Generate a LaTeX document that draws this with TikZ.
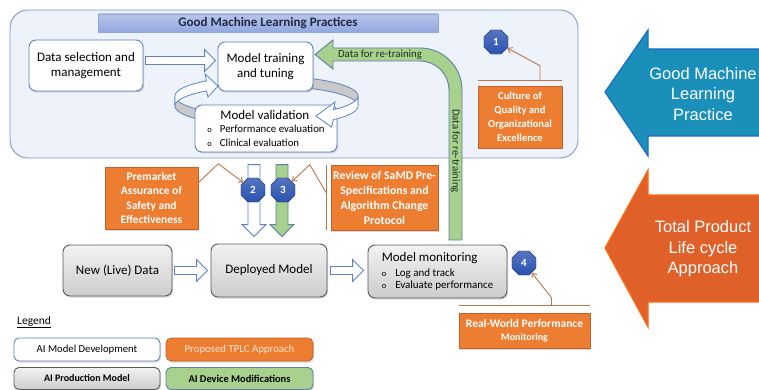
\documentclass[tikz,border=0pt]{standalone}
\usepackage{fontspec}
\setmainfont{Carlito}
\newfontfamily\arialfont{Liberation Sans}
\usetikzlibrary{calc,shapes.geometric,shadows,arrows.meta}
\definecolor{outerfill}{HTML}{EEF2FA}
\definecolor{outerdraw}{HTML}{7F98CC}
\definecolor{boxblue}{HTML}{5B83C3}
\definecolor{orng}{HTML}{ED7D31}
\definecolor{orngdark}{HTML}{C0602A}
\definecolor{brownline}{HTML}{B8764E}
\definecolor{grnfill}{HTML}{A9D18E}
\definecolor{grndraw}{HTML}{5B7FA6}
\definecolor{badgec}{HTML}{2A52B0}
\definecolor{bluearr}{HTML}{1A8FBA}
\definecolor{bluearrdraw}{HTML}{1E6BC4}
\definecolor{orarr}{HTML}{E0602A}
\definecolor{orarrdraw}{HTML}{FF6A10}
\definecolor{titletxt}{HTML}{1F2A44}
\definecolor{titletop}{HTML}{B9C6EC}
\definecolor{titlebot}{HTML}{93A7DF}
\definecolor{ribgrayc}{HTML}{C9C9C9}
\definecolor{peach}{HTML}{FCE4D6}
\definecolor{greentxt}{HTML}{1E2E1A}
\newcommand{\harrow}[3][]{%
  \draw[hollowarr,#1] let \p1=(#2), \p2=(#3) in
  (\x1,\y1+4pt) -- (\x2-11pt,\y1+4pt) -- (\x2-11pt,\y1+11pt) -- (\x2,\y1)
  -- (\x2-11pt,\y1-11pt) -- (\x2-11pt,\y1-4pt) -- (\x1,\y1-4pt) -- cycle;}
\newcommand{\varrow}[3][]{%
  \draw[hollowarr,#1] let \p1=(#2), \p2=(#3) in
  (\x1-6pt,\y1) -- (\x1-6pt,\y2+12pt) -- (\x1-12pt,\y2+12pt) -- (\x1,\y2)
  -- (\x1+12pt,\y2+12pt) -- (\x1+6pt,\y2+12pt) -- (\x1+6pt,\y1) -- cycle;}
\begin{document}
\begin{tikzpicture}[x=1pt,y=-1pt,
  shad/.style={drop shadow={shadow xshift=1.2pt,shadow yshift=-1.5pt,opacity=0.3}},
  box/.style={draw=boxblue, line width=0.9pt, fill=white, rounded corners=7pt, align=center, shad},
  graybox/.style={draw=gray!70!black, line width=0.9pt, top color=gray!10, bottom color=gray!40, rounded corners=7pt, align=center, shad},
  orbox/.style={draw=orngdark, line width=0.6pt, fill=orng, text=white, align=center, shad},
  badgenode/.style={regular polygon, regular polygon sides=8, minimum size=26pt, inner sep=0pt, draw=badgec!70!black, top color=badgec!80!white, bottom color=badgec, text=white, font=\bfseries\fontsize{11}{12}\selectfont},
  callout/.style={draw=brownline, line width=0.9pt},
  callarrow/.style={callout, -{Straight Barb[length=4pt,width=6pt]}},
  hollowarr/.style={draw=boxblue, line width=0.9pt, fill=white, line join=miter},
  greenarr/.style={draw=grndraw, line width=0.9pt, fill=grnfill, line join=miter},
  ribg/.style={draw=boxblue, line width=0.8pt, fill=ribgrayc},
  ribw/.style={draw=boxblue, line width=0.8pt, fill=white, line join=miter},
  bigtxt/.style={text=white, align=center, font=\arialfont\fontsize{16.5}{20.5}\selectfont}
]
\useasboundingbox (0,0) rectangle (759,390);

% outer GMLP region
\draw[draw=outerdraw, fill=outerfill, line width=0.9pt, rounded corners=18pt] (10,10) rectangle (578,158);
\node[draw=boxblue!70, line width=0.5pt, top color=titletop, bottom color=titlebot, minimum width=340pt, minimum height=18pt, inner sep=0pt, text=titletxt, font=\bfseries\fontsize{13}{14}\selectfont] (gt) at (268,23) {Good Machine Learning Practices};

% green re-training arrow
\draw[greenarr] (449,240) -- (449,90) .. controls (449,74) and (436,61) .. (420,61) -- (333,61) -- (333,69) -- (315,54.5) -- (333,40) -- (333,48) -- (420,48) .. controls (443.2,48) and (462,66.8) .. (462,90) -- (462,240) -- cycle;
\node[text=greentxt, font=\fontsize{10.8}{12}\selectfont, inner sep=0pt] (dfr1) at (380,55) {Data for re-training};
\node[text=greentxt, font=\fontsize{10.8}{12}\selectfont, inner sep=0pt, rotate=-90] (dfr2) at (455.5,151) {Data for re-training};

% circular arrow, back parts
\draw[ribg] plot[domain=62:0,samples=20] ({266.5+91.5*cos(\x)},{96-20*sin(\x)}) -- plot[domain=0:62,samples=20] ({266.5+91.5*cos(\x)},{106-20*sin(\x)}) -- cycle;
\draw[ribg] plot[domain=235:180,samples=20] ({266.5+91.5*cos(\x)},{96-20*sin(\x)}) -- plot[domain=180:235,samples=20] ({266.5+91.5*cos(\x)},{106-20*sin(\x)}) -- cycle;
\draw[ribw] plot[domain=180:131,samples=20] ({266.5+91.5*cos(\x)},{96-20*sin(\x)}) -- (205,74) -- (218,86) -- (208,97) -- plot[domain=131:180,samples=20] ({266.5+91.5*cos(\x)},{106-20*sin(\x)}) -- cycle;

% GMLP boxes
\node[box, minimum width=114pt, minimum height=51pt, inner sep=1pt, font=\fontsize{13}{14.5}\selectfont] (ds) at (86,65.5) {Data selection and\\management};
\node[box, minimum width=95pt, minimum height=49pt, inner sep=1pt, font=\fontsize{13}{15}\selectfont] (mt) at (265.5,66.5) {Model training\\and tuning};
\node[box, minimum width=142pt, minimum height=47pt, align=left, inner sep=1pt, font=\fontsize{10.8}{13.5}\selectfont] (mv) at (266,128.5) {{\fontsize{13}{14}\selectfont\hspace*{13pt}Model validation}\\{\fontsize{8.5}{8}\selectfont o}\hspace{8pt}Performance evaluation\\{\fontsize{8.5}{8}\selectfont o}\hspace{8pt}Clinical evaluation};

% circular arrow, front part
\draw[ribw] plot[domain=0:-43,samples=20] ({266.5+91.5*cos(\x)},{96-20*sin(\x)}) -- (335,102) -- (316,116) -- (331.5,127) -- plot[domain=-43:0,samples=20] ({266.5+91.5*cos(\x)},{106-20*sin(\x)}) -- cycle;

\harrow{$(ds.east)+(2,-5)$}{$(mt.west)+(-2,0)$}

% culture box
\node[orbox, minimum width=84pt, minimum height=62pt, inner sep=1pt, font=\bfseries\fontsize{10.6}{14}\selectfont] (cu) at (520,117) {Culture of\\Quality and\\Organizational\\Excellence};
\node[badgenode] (b1) at (496,42) {1};
\draw[callout] ($(cu.north west)+(0,-5)$) -- ($(cu.north east)+(0,-5)$);
\draw[callarrow] ($(cu.north)+(20,-5)$) -- ++(0,-15) -- (b1);

% production row
\node[graybox, minimum width=109pt, minimum height=51pt, font=\fontsize{13}{14}\selectfont] (nd) at (117.5,270.5) {New (Live) Data};
\node[graybox, minimum width=116pt, minimum height=53pt, font=\fontsize{13}{14}\selectfont] (dm) at (269,270.5) {Deployed Model};
\node[graybox, minimum width=139pt, minimum height=53pt, align=left, inner sep=1pt, font=\fontsize{11}{12.5}\selectfont] (mm) at (437.5,271.5) {{\fontsize{13}{14}\selectfont Model monitoring}\\[2pt]{\fontsize{8.5}{8}\selectfont o}\hspace{9pt}Log and track\\{\fontsize{8.5}{8}\selectfont o}\hspace{9pt}Evaluate performance};
\harrow{$(nd.east)+(2,0)$}{$(dm.west)+(-3,0)$}
\harrow{$(dm.east)+(3,0)$}{$(mm.west)+(-4,0)$}

% down arrows into deployed model
\varrow{$(dm.north)+(-15,-79)$}{$(dm.north)+(-15,-7)$}
\varrow[greenarr]{$(dm.north)+(13,-79)$}{$(dm.north)+(13,-7)$}

% TPLC boxes
\node[orbox, minimum width=93pt, minimum height=62pt, inner sep=1pt, font=\bfseries\fontsize{11.5}{14.5}\selectfont] (pm) at (151.5,198) {Premarket\\Assurance of\\Safety and\\Effectiveness};
\node[orbox, minimum width=107pt, minimum height=65pt, inner sep=1pt, font=\bfseries\fontsize{11.8}{15}\selectfont] (rv) at (384.5,197.5) {Review of SaMD Pre-\\Specifications and\\Algorithm Change\\Protocol};
\node[badgenode] (b2) at (253,190) {2};
\node[badgenode] (b3) at (283,190) {3};
\draw[callarrow] ($(pm.north east)+(0,16)$) -- ($(pm.north east)+(20,-3)$) -- (b2);
\draw[callout] ($(rv.north west)+(-4,0)$) -- ($(rv.south west)+(-4,0)$);
\draw[callarrow] ($(rv.west)+(-4,-4)$) -- ($(rv.north west)+(-21,0)$) -- (b3);

\node[orbox, minimum width=131pt, minimum height=35pt, inner sep=1pt, font=\bfseries\fontsize{11.5}{13}\selectfont] (rw) at (524.5,330.5) {Real-World Performance\\{\fontsize{10}{11}\selectfont Monitoring}};
\node[badgenode] (b4) at (524,263) {4};
\draw[callout] ($(rw.north west)+(0,-7)$) -- ($(rw.north east)+(0,-7)$);
\draw[callarrow] ($(rw.north)+(27,-7)$) -- ++(0,-8) -- (b4);

% big side arrows
\draw[draw=bluearrdraw, fill=bluearr, line width=1.2pt, line join=miter] (770,49) -- (648,49) -- (648,30) -- (605,92) -- (648,156) -- (648,136) -- (770,136);
\node[bigtxt] (gmlp) at (703,94) {Good Machine\\Learning\\Practice};
\draw[draw=orarrdraw, fill=orarr, line width=1.2pt, line join=miter] (770,195) -- (648,195) -- (648,170) -- (605,248) -- (648,327) -- (648,302) -- (770,302);
\node[bigtxt] (tplc) at (703,249) {Total Product\\Life cycle\\Approach};

% legend
\node[anchor=west, inner sep=0pt, font=\fontsize{11.5}{12}\selectfont] (lg) at (17,322) {\underline{Legend}};
\node[box, rounded corners=5pt, minimum width=146pt, minimum height=23pt, font=\fontsize{10.7}{12}\selectfont] (l1) at (87,349.5) {AI Model Development};
\node[orbox, rounded corners=5pt, minimum width=147pt, minimum height=23pt, text=peach, font=\fontsize{10.8}{12}\selectfont] (l2) at (239.5,349.5) {Proposed TPLC Approach};
\node[graybox, rounded corners=5pt, minimum width=146pt, minimum height=22pt, font=\bfseries\fontsize{10}{11}\selectfont] (l3) at (87,378.5) {AI Production Model};
\node[draw=grndraw, line width=0.9pt, fill=grnfill, rounded corners=5pt, minimum width=147pt, minimum height=22pt, shad, font=\bfseries\fontsize{10.4}{11}\selectfont] (l4) at (239.5,378.5) {AI Device Modifications};
\end{tikzpicture}
\end{document}
